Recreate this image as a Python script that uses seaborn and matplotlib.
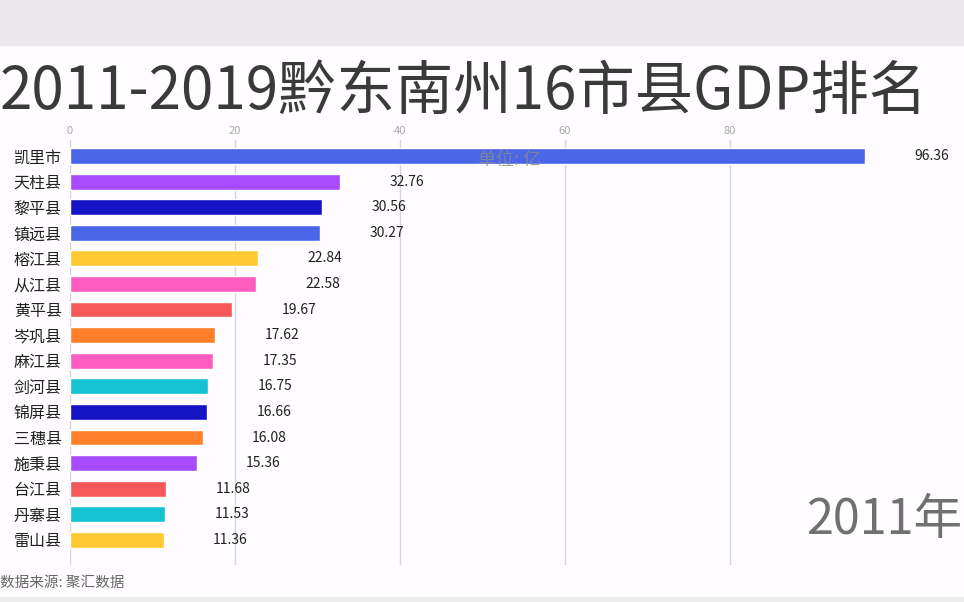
import numpy as np
import pandas as pd
import seaborn as sns
import matplotlib.pyplot as plt
from matplotlib.patches import Rectangle


# 2011年 黔东南州16市县GDP (单位: 亿)
names = ["凯里市", "天柱县", "黎平县", "镇远县", "榕江县", "从江县", "黄平县", "岑巩县",
         "麻江县", "剑河县", "锦屏县", "三穗县", "施秉县", "台江县", "丹寨县", "雷山县"]
gdp = [96.36, 32.76, 30.56, 30.27, 22.84, 22.58, 19.67, 17.62,
       17.35, 16.75, 16.66, 16.08, 15.36, 11.68, 11.53, 11.36]
colors = ["#4a66e8", "#a64bff", "#1414c4", "#4a66e8", "#ffc933", "#ff5cbf", "#f55858", "#ff7f2a",
          "#ff5cbf", "#14c2d2", "#1414c4", "#ff7f2a", "#a64bff", "#f55858", "#14c2d2", "#ffc933"]
xticks = [0, 20, 40, 60, 80]

sns.set_theme(style="white")
plt.rcParams['font.family'] = ['Noto Sans CJK SC', 'DejaVu Sans']

fig = plt.figure(figsize=(9.64, 6.02), dpi=100)
fig.patch.set_facecolor("#fefcfe")
# blurred band at the top of the screenshot
fig.patches.append(Rectangle((0, 1 - 45 / 602), 1, 45 / 602, transform=fig.transFigure,
                             color="#ebe7ed", zorder=0))
fig.patches.append(Rectangle((0, 0), 1, 5 / 602, transform=fig.transFigure,
                             color="#ececec", zorder=0))

ax = fig.add_axes([70 / 964, 1 - 565 / 602, 825 / 964, 425 / 602])
ax.set_facecolor("none")

df = pd.DataFrame({"name": names, "gdp": gdp})
sns.barplot(data=df, x="gdp", y="name", hue="name", palette=colors, legend=False,
            orient="h", width=0.62, ax=ax, saturation=1, zorder=3)

ax.set_xlim(0, 100)
ax.set_ylim(15.98, -0.625)
ax.set_xticks(xticks)
ax.xaxis.tick_top()
ax.tick_params(axis="x", labelsize=8, colors="#aaaaaa", length=0, pad=3)
ax.tick_params(axis="y", labelsize=11.5, colors="#222222", length=0, pad=6)
ax.grid(axis="x", color="#d5d5d8", linewidth=1, zorder=0)
for s in ax.spines.values():
    s.set_visible(False)
ax.set_xlabel("")
ax.set_ylabel("")

for i, v in enumerate(gdp):
    ax.text(v + 6, i, f"{v:.2f}", va="center", ha="left", fontsize=10,
            color="#222222", clip_on=False)

fig.text(0.0, 1 - 92 / 602, "2011-2019黔东南州16市县GDP排名", fontsize=42,
         color="#3a3a3a", va="center", ha="left")
fig.text(510 / 964, 1 - 160 / 602, "单位: 亿", fontsize=13, color="#8a8a8a",
         alpha=0.8, va="center", ha="center", zorder=5)
fig.text(962 / 964, 1 - 520 / 602, "2011年", fontsize=35, color="#707070",
         va="center", ha="right")
fig.text(0.0, 1 - 583 / 602, "数据来源: 聚汇数据", fontsize=10.5, color="#666666",
         va="center", ha="left")

plt.savefig("out.png", dpi=100)
plt.close()
